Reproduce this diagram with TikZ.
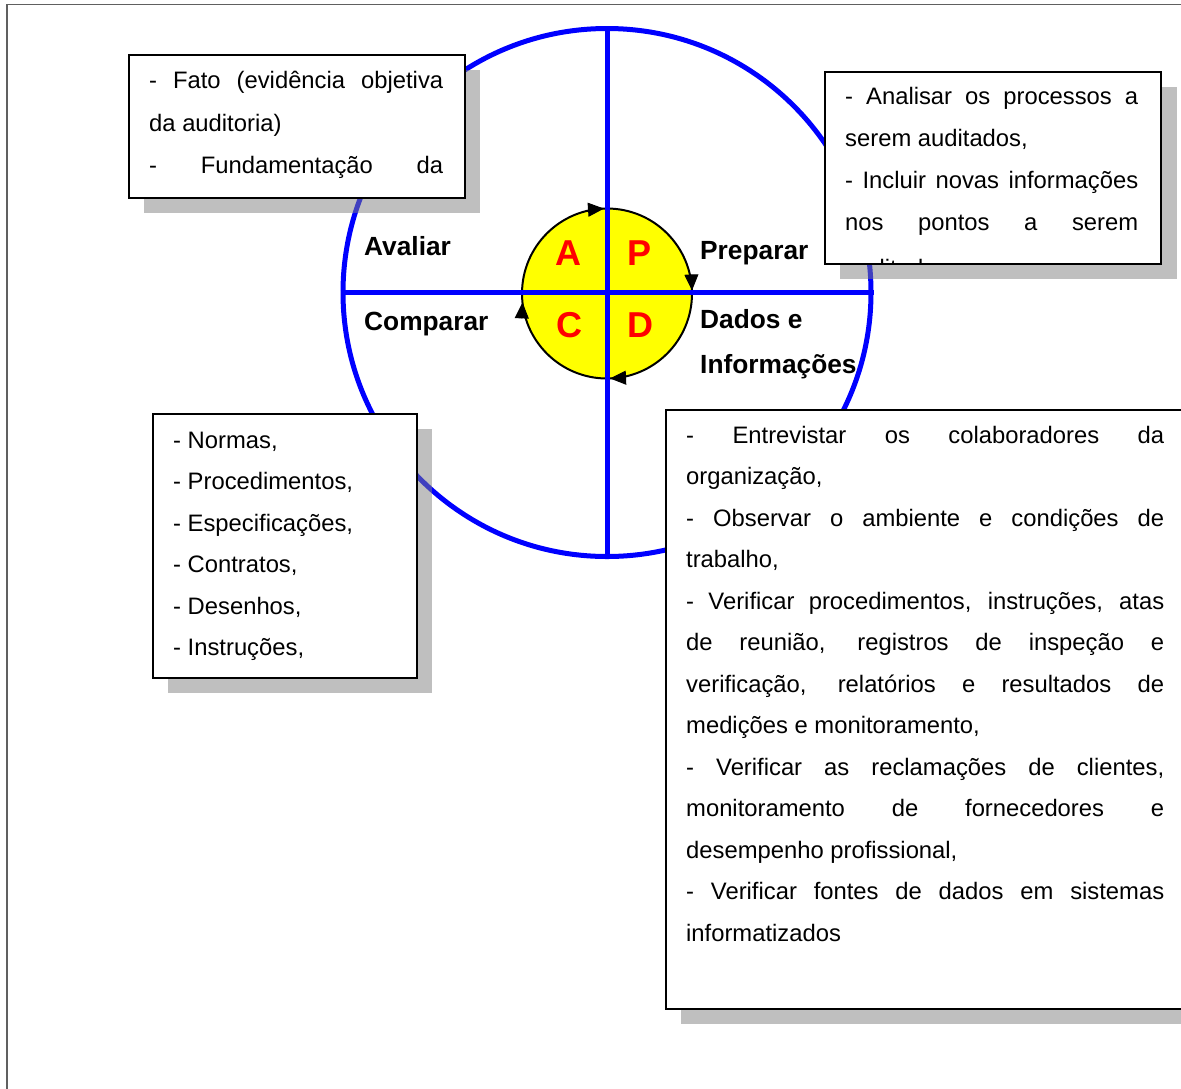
\documentclass[tikz,border=0pt]{standalone}
\usepackage{fontspec}
\setmainfont{Liberation Sans}
\usetikzlibrary{arrows.meta}
\definecolor{pdcablue}{RGB}{0,0,255}
\definecolor{pdcared}{RGB}{255,0,0}
\definecolor{pdcayellow}{RGB}{255,255,0}
\definecolor{framegray}{RGB}{96,96,96}
\newcommand{\jline}[2]{\makebox[#1pt][s]{#2}}
\begin{document}
\begin{tikzpicture}[x=1pt,y=-1pt,
  txt/.style={inner sep=0pt, anchor=base west, font=\fontsize{23.8}{41.5}\selectfont},
  lbl/.style={inner sep=0pt, anchor=base west, font=\fontsize{26.3}{46}\selectfont\bfseries},
  letter/.style={inner sep=0pt, anchor=base, text=pdcared, font=\fontsize{36}{40}\selectfont\bfseries},
  blueline/.style={draw=pdcablue, line width=5pt},
  shadowbox/.style={fill=black!50, fill opacity=0.5},
  textbox/.style={draw=black, line width=2pt, fill=white},
  cyclearrow/.style={draw=black, line width=1pt, -{Triangle[length=16pt,width=14pt]}}
]
\useasboundingbox (0,0) rectangle (1181,1088);
\fill[white] (0,0) rectangle (1181,1088);
% outer frame
\draw[framegray, line width=1.5pt] (7,1095) -- (7,4.5) -- (1190,4.5);

% PDCA inner circle
\node[circle, draw=black, line width=2pt, fill=pdcayellow, minimum size=170pt, inner sep=0pt] (pdca) at (607,293.5) {};
% big circle
\node[circle, draw=pdcablue, line width=5pt, minimum size=528pt, inner sep=0pt] (cycle) at (607,292.5) {};
\draw[blueline] (cycle.north) -- (cycle.south);
\draw[blueline] (cycle.west) -- (cycle.east);

% cycle arrows
\coordinate (t0) at (588,209.7); \coordinate (t1) at (604,208.6);
\coordinate (r0) at (691.4,274.5); \coordinate (r1) at (692,290.5);
\coordinate (b0) at (626,377.7); \coordinate (b1) at (610,378.4);
\coordinate (l0) at (521.8,318.4); \coordinate (l1) at (522.5,302.4);
\draw[cyclearrow] (t0) -- (t1);
\draw[cyclearrow] (r0) -- (r1);
\draw[cyclearrow] (b0) -- (b1);
\draw[cyclearrow] (l0) -- (l1);

% letters
\node[letter] (la) at (568.5,265) {A};
\node[letter] (lp) at (639.5,265) {P};
\node[letter] (lc) at (569.5,337) {C};
\node[letter] (ld) at (640.5,337) {D};

% labels
\node[lbl] (avaliar) at (364,255) {Avaliar};
\node[lbl] (comparar) at (364,330) {Comparar};
\node[lbl] (preparar) at (700,259) {Preparar};
\node[lbl] (dados) at (700,328) {Dados e};
\node[lbl] (info) at (700,373) {Informações};

% shadows
\fill[shadowbox] (144,70) rectangle (480,213);
\fill[shadowbox] (840,87) rectangle (1177,279);
\fill[shadowbox] (168,429) rectangle (432,693);
\fill[shadowbox] (681,425) rectangle (1200,1024);

% box 1
\node[textbox, anchor=north west, minimum width=336pt, minimum height=143pt, inner sep=0pt] (box1) at (128,54) {};
\node[txt] (f1) at (149,88) {\jline{294}{- Fato (evidência objetiva}};
\node[txt] (f2) at (149,131) {da auditoria)};
\node[txt] (f3) at (149,173) {\jline{294}{- Fundamentação da}};

% box 2
\node[textbox, anchor=north west, minimum width=336pt, minimum height=192pt, inner sep=0pt] (box2) at (824,71) {};
\begin{scope}
\clip (825,72) rectangle (1159,262);
\node[txt] (a1) at (845,104.5) {\jline{293}{- Analisar os processos a}};
\node[txt] (a2) at (845,146.5) {serem auditados,};
\node[txt] (a3) at (845,188.5) {\jline{293}{- Incluir novas informações}};
\node[txt] (a4) at (845,230) {\jline{293}{nos pontos a serem}};
\node[txt] (a5) at (845,276) {auditados,};
\end{scope}

% box 3
\node[textbox, anchor=north west, minimum width=264pt, minimum height=264pt, inner sep=0pt] (box3) at (152,413) {};
\node[txt] (n1) at (173,448) {- Normas,};
\node[txt] (n2) at (173,489.5) {- Procedimentos,};
\node[txt] (n3) at (173,531) {- Especificações,};
\node[txt] (n4) at (173,572.5) {- Contratos,};
\node[txt] (n5) at (173,614) {- Desenhos,};
\node[txt] (n6) at (173,655.5) {- Instruções,};

% box 4
\node[textbox, anchor=north west, minimum width=540pt, minimum height=599pt, inner sep=0pt] (box4) at (665,409) {};
\node[txt] (e1) at (686,443) {\jline{478}{- Entrevistar os colaboradores da}};
\node[txt] (e2) at (686,484.5) {organização,};
\node[txt] (e3) at (686,526) {\jline{478}{- Observar o ambiente e condições de}};
\node[txt] (e4) at (686,567.5) {trabalho,};
\node[txt] (e5) at (686,609) {\jline{478}{- Verificar procedimentos, instruções, atas}};
\node[txt] (e6) at (686,650.5) {\jline{478}{de reunião, registros de inspeção e}};
\node[txt] (e7) at (686,692) {\jline{478}{verificação, relatórios e resultados de}};
\node[txt] (e8) at (686,733.5) {medições e monitoramento,};
\node[txt] (e9) at (686,775) {\jline{478}{- Verificar as reclamações de clientes,}};
\node[txt] (e10) at (686,816.5) {\jline{478}{monitoramento de fornecedores e}};
\node[txt] (e11) at (686,858) {desempenho profissional,};
\node[txt] (e12) at (686,899.5) {\jline{478}{- Verificar fontes de dados em sistemas}};
\node[txt] (e13) at (686,941) {informatizados};
\end{tikzpicture}
\end{document}
